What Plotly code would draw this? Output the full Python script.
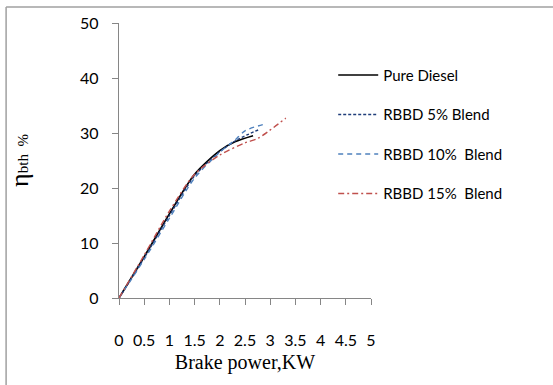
import plotly.graph_objects as go

series_names = ["Pure Diesel", "RBBD 5% Blend", "RBBD 10%  Blend", "RBBD 15%  Blend"]
x_diesel = [0, 0.5, 1.0, 1.5, 2.0, 2.3, 2.66]
y_diesel = [0, 7.5, 15.3, 22.5, 26.8, 28.4, 29.5]
x_b5 = [0, 0.5, 1.0, 1.5, 2.0, 2.35, 2.8]
y_b5 = [0, 7.3, 15.0, 22.2, 26.6, 28.8, 30.7]
x_b10 = [0, 0.5, 1.0, 1.5, 2.0, 2.3, 2.5, 2.88]
y_b10 = [0, 7.0, 14.5, 21.8, 26.5, 28.7, 30.4, 31.6]
x_b15 = [0, 0.5, 1.0, 1.5, 2.0, 2.5, 2.75, 3.31]
y_b15 = [0, 7.8, 15.8, 22.5, 26.0, 28.2, 29.0, 32.7]
x_ticks = [0, 0.5, 1, 1.5, 2, 2.5, 3, 3.5, 4, 4.5, 5]
y_ticks = [0, 10, 20, 30, 40, 50]

colors = ["#000000", "#1f3d7a", "#4f81bd", "#c0504d"]
dashes = ["solid", "3px,2px", "5px,4px", "6px,3px,2px,3px"]
widths = [1.7, 1.4, 1.4, 1.4]
xs = [x_diesel, x_b5, x_b10, x_b15]
ys = [y_diesel, y_b5, y_b10, y_b15]

fig = go.Figure()
for i, name in enumerate(series_names):
    fig.add_trace(go.Scatter(
        x=xs[i], y=ys[i], mode="lines", name=name, legendgroup=str(i),
        line=dict(color=colors[i], dash=dashes[i], width=widths[i], shape="spline", smoothing=0.8),
    ))

tickfont = dict(family="Lato, Carlito, sans-serif", size=16, color="#000000")
fig.update_layout(
    width=553, height=385,
    margin=dict(l=119, r=182, t=23, b=87),
    paper_bgcolor="white", plot_bgcolor="white",
    showlegend=True,
    legend=dict(x=0.85, y=0.87, xanchor="left", yanchor="top",
                font=dict(family="Lato, Carlito, sans-serif", size=15, color="#000000"),
                tracegroupgap=17, bgcolor="rgba(0,0,0,0)", itemwidth=40),
    xaxis=dict(range=[0, 5], tickvals=x_ticks, ticktext=[str(t) for t in x_ticks],
               showgrid=False, zeroline=False, showline=True, linecolor="#868686", linewidth=1.3,
               ticks="outside", ticklen=6, tickcolor="#868686", tickfont=tickfont,
               ticklabelstandoff=22,
               title=dict(text="Brake power,KW", font=dict(family="Liberation Serif, Times New Roman, serif", size=20, color="#000000"), standoff=6)),
    yaxis=dict(range=[0, 50], tickvals=y_ticks, showgrid=False, zeroline=False, showline=True,
               linecolor="#868686", linewidth=1.3, ticks="outside", ticklen=6, tickcolor="#868686",
               tickfont=tickfont, ticklabelstandoff=10,
               title=dict(text="<span style='font-size:26px'>η</span><span style='font-size:15px'>bth  %</span>",
                          font=dict(family="Liberation Serif, Times New Roman, serif", size=15, color="#000000"), standoff=47)),
)
fig.add_shape(type="line", xref="paper", yref="paper", x0=-0.448, x1=2.0, y0=1.058, y1=1.058,
              line=dict(color="#a0a0a0", width=1.5))
fig.add_shape(type="line", xref="paper", yref="paper", x0=-0.448, x1=-0.448, y0=1.058, y1=-0.5,
              line=dict(color="#a0a0a0", width=1.5))
fig.write_html("out.html")
